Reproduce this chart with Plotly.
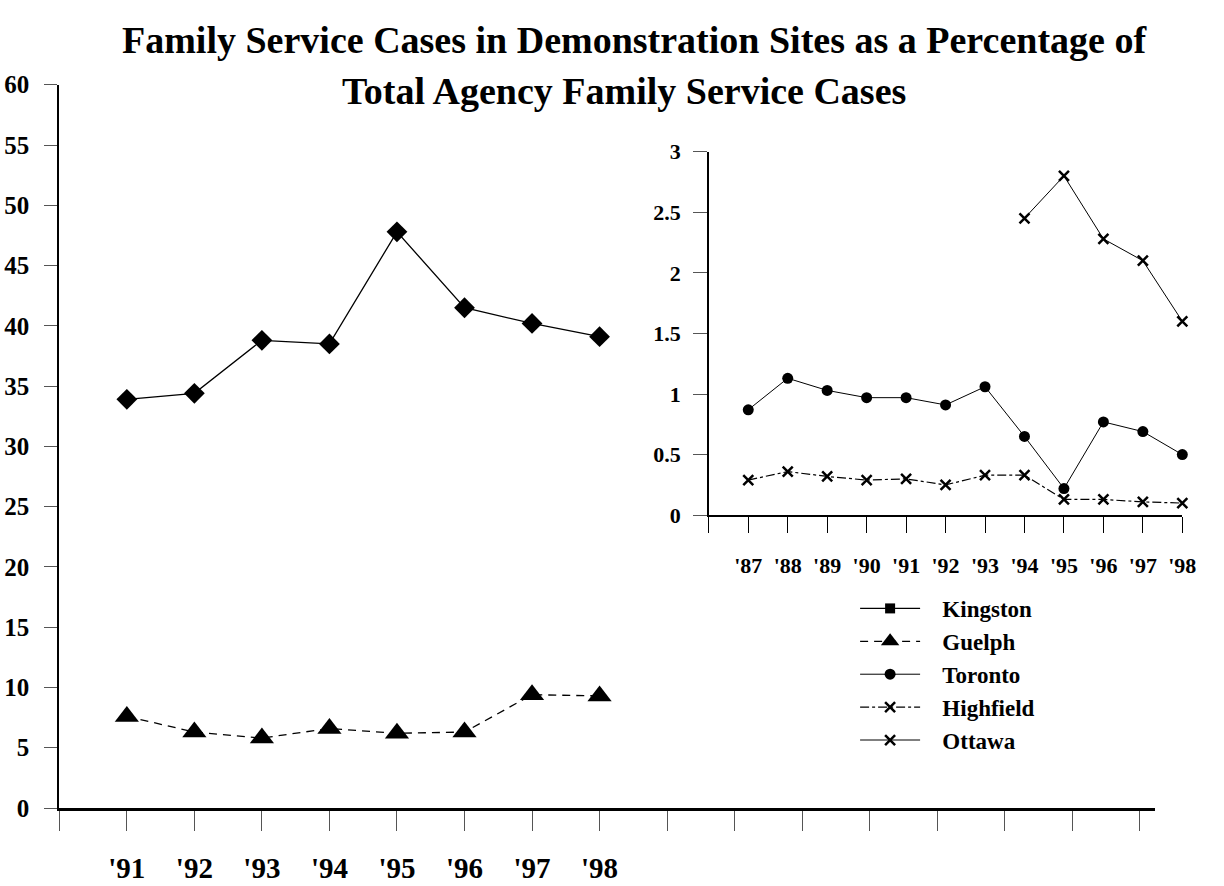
import plotly.graph_objects as go

# ---------------- data ----------------
main_years = ["'91", "'92", "'93", "'94", "'95", "'96", "'97", "'98"]
kingston_main = [33.9, 34.4, 38.8, 38.5, 47.8, 41.5, 40.2, 39.1]
guelph = [7.6, 6.3, 5.8, 6.6, 6.2, 6.3, 9.4, 9.3]
main_slots = 16  # category slots on the main x axis

inset_years = ["'87", "'88", "'89", "'90", "'91", "'92", "'93", "'94", "'95", "'96", "'97", "'98"]
toronto = [0.87, 1.13, 1.03, 0.97, 0.97, 0.91, 1.06, 0.65, 0.22, 0.77, 0.69, 0.50]
highfield = [0.29, 0.36, 0.32, 0.29, 0.30, 0.25, 0.33, 0.33, 0.13, 0.13, 0.11, 0.10]
ottawa_years = ["'94", "'95", "'96", "'97", "'98"]
ottawa = [2.45, 2.80, 2.28, 2.10, 1.60]

main_yticks = list(range(0, 61, 5))
inset_yticks = [0, 0.5, 1, 1.5, 2, 2.5, 3]
inset_ylabels = ["0", "0.5", "1", "1.5", "2", "2.5", "3"]

title1 = "Family Service Cases in Demonstration Sites as a Percentage of"
title2 = "Total Agency Family Service Cases"

# ---------------- helpers ----------------
main_pos = {y: i + 1 for i, y in enumerate(main_years)}
inset_pos = {y: i + 1 for i, y in enumerate(inset_years)}

FONT = "Liberation Serif"
W, H = 1224, 886
PAD = "\u00a0\u00a0\u00a0"

def px_x(p):
    return p / W

def px_y(p):
    return 1 - p / H

fig = go.Figure()

fig.add_trace(go.Scatter(
    x=[main_pos[y] for y in main_years], y=kingston_main,
    mode="lines+markers", name="Kingston main", showlegend=False,
    line=dict(color="black", width=1.3), cliponaxis=False,
    marker=dict(symbol="diamond", size=16, color="black"),
    xaxis="x", yaxis="y"))

fig.add_trace(go.Scatter(
    x=[None], y=[None], mode="lines+markers", name=PAD + "Kingston",
    line=dict(color="black", width=1.3),
    marker=dict(symbol="square", size=10, color="black"),
    xaxis="x", yaxis="y"))

fig.add_trace(go.Scatter(
    x=[main_pos[y] for y in main_years], y=guelph,
    mode="lines+markers", name=PAD + "Guelph",
    line=dict(color="black", width=1.3, dash="8px,6px"), cliponaxis=False,
    marker=dict(symbol="triangle-up", size=21, color="black"),
    xaxis="x", yaxis="y"))

fig.add_trace(go.Scatter(
    x=[inset_pos[y] for y in inset_years], y=toronto,
    mode="lines+markers", name=PAD + "Toronto",
    line=dict(color="black", width=1), cliponaxis=False,
    marker=dict(symbol="circle", size=11, color="black"),
    xaxis="x2", yaxis="y2"))

fig.add_trace(go.Scatter(
    x=[inset_pos[y] for y in inset_years], y=highfield,
    mode="lines+markers", name=PAD + "Highfield",
    line=dict(color="black", width=1.2, dash="dashdot"), cliponaxis=False,
    marker=dict(symbol="x-thin", size=10, color="black",
                line=dict(color="black", width=2.5)),
    xaxis="x2", yaxis="y2"))

fig.add_trace(go.Scatter(
    x=[inset_pos[y] for y in ottawa_years], y=ottawa,
    mode="lines+markers", name=PAD + "Ottawa",
    line=dict(color="black", width=1), cliponaxis=False,
    marker=dict(symbol="x-thin", size=10, color="black",
                line=dict(color="black", width=2.5)),
    xaxis="x2", yaxis="y2"))

tickfont_main_y = dict(family=FONT, size=25, color="black", weight="bold")
tickfont_main_x = dict(family=FONT, size=29, color="black", weight="bold")
tickfont_inset = dict(family=FONT, size=22, color="black", weight="bold")

fig.update_layout(
    width=W, height=H,
    margin=dict(l=0, r=0, t=0, b=0),
    paper_bgcolor="white", plot_bgcolor="rgba(0,0,0,0)",
    font=dict(family=FONT, color="black"),
    xaxis=dict(
        domain=[px_x(60), px_x(1168)],
        range=[0, main_slots + 15 / 68.3],
        tickmode="array",
        tickvals=list(range(main_slots + 1)),
        ticktext=[""] + main_years + [""] * (main_slots - len(main_years)),
        ticks="outside", ticklen=20, tickcolor="#555", tickwidth=1,
        showline=True, linecolor="black", linewidth=2.5,
        showgrid=False, zeroline=False,
        tickfont=tickfont_main_x, ticklabelstandoff=12,
        anchor="y"),
    yaxis=dict(
        domain=[px_y(820), px_y(74)],
        range=[0, 60],
        tickmode="array", tickvals=main_yticks,
        ticks="outside", ticklen=13, tickcolor="#555", tickwidth=1,
        showline=True, linecolor="black", linewidth=2,
        showgrid=False, zeroline=False,
        tickfont=tickfont_main_y, ticklabelstandoff=10,
        anchor="x"),
    xaxis2=dict(
        domain=[px_x(717), px_x(1196)],
        range=[0, len(inset_years)],
        tickmode="array",
        tickvals=list(range(len(inset_years) + 1)),
        ticktext=[""] + inset_years,
        ticks="outside", ticklen=16, tickcolor="black", tickwidth=1,
        showline=True, linecolor="black", linewidth=1.5,
        showgrid=False, zeroline=False,
        tickfont=tickfont_inset, ticklabelstandoff=14,
        anchor="y2"),
    yaxis2=dict(
        domain=[px_y(518), px_y(143)],
        range=[0, 3],
        tickmode="array", tickvals=inset_yticks, ticktext=inset_ylabels,
        ticks="outside", ticklen=14, tickcolor="#555", tickwidth=1,
        showline=True, linecolor="black", linewidth=1.5,
        showgrid=False, zeroline=False,
        tickfont=tickfont_inset, ticklabelstandoff=8,
        anchor="x2"),
    legend=dict(
        x=px_x(865), y=px_y(592), xanchor="left", yanchor="top",
        bgcolor="rgba(0,0,0,0)", borderwidth=0,
        itemwidth=60, traceorder="normal",
        font=dict(family=FONT, size=23, color="black", weight="bold"),
        tracegroupgap=0),
    annotations=[
        dict(text=title1, x=px_x(642), y=px_y(28), xref="paper", yref="paper",
             xanchor="center", yanchor="middle", showarrow=False,
             font=dict(family=FONT, size=38, color="black", weight="bold")),
        dict(text=title2, x=px_x(631), y=px_y(80), xref="paper", yref="paper",
             xanchor="center", yanchor="middle", showarrow=False,
             font=dict(family=FONT, size=38, color="black", weight="bold")),
    ],
)

post = (
    "document.body.style.margin='0';"
    "document.body.style.overflow='hidden';"
    "var gd=document.getElementById('{plot_id}');"
    "gd.style.position='fixed';gd.style.left='0px';gd.style.top='0px';"
)

fig.write_html("out.html", post_script=post, config={"displayModeBar": False})
